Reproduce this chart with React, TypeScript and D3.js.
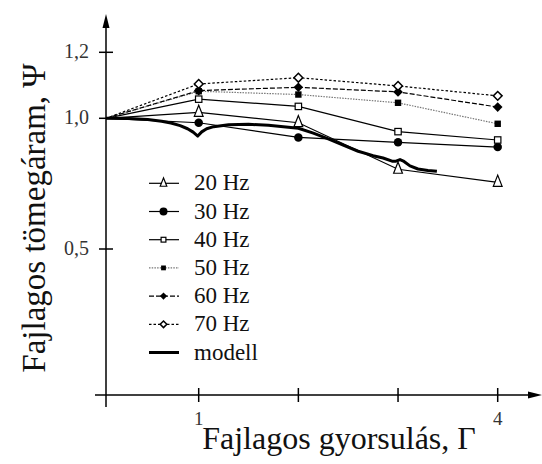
import React from "react";
import * as d3 from "d3";

// Measured points: specific mass flow Ψ against specific acceleration Γ
const gammaValues = [0, 1, 2, 3, 4];
const seriesNames = ["20 Hz", "30 Hz", "40 Hz", "50 Hz", "60 Hz", "70 Hz"];
const psi20 = [1.0, 1.018, 0.983, 0.805, 0.755];
const psi30 = [1.0, 0.983, 0.927, 0.908, 0.89];
const psi40 = [1.0, 1.058, 1.036, 0.949, 0.917];
const psi50 = [1.0, 1.082, 1.072, 1.047, 0.979];
const psi60 = [1.0, 1.084, 1.094, 1.08, 1.034];
const psi70 = [1.0, 1.104, 1.123, 1.098, 1.068];

// Model curve (Γ, Ψ)
const modelGamma = [0, 0.25, 0.45, 0.6, 0.7, 0.8, 0.88, 0.94, 0.99, 1.03, 1.08, 1.15, 1.3, 1.5, 1.7, 1.9, 2.0, 2.15, 2.3, 2.45, 2.6, 2.75, 2.85, 2.94, 2.98, 3.02, 3.06, 3.12, 3.2, 3.3, 3.39];
const modelPsi = [1.0, 0.999, 0.995, 0.989, 0.982, 0.972, 0.96, 0.947, 0.932, 0.948, 0.96, 0.968, 0.975, 0.977, 0.973, 0.966, 0.962, 0.943, 0.921, 0.897, 0.874, 0.857, 0.848, 0.836, 0.836, 0.842, 0.835, 0.818, 0.806, 0.8, 0.797];

const xTicks = [1, 2, 3, 4];
const xTickLabels = ["1", "", "", "4"];
const yTicks = [0.5, 1.0, 1.2];
const yTickLabels = ["0,5", "1,0", "1,2"];

const W = 542;
const H = 464;
const FONT = "Liberation Serif";

const x = d3.scaleLinear().domain([0, 1, 4]).range([106, 198.7, 497.7]);
const y = d3.scaleLinear().domain([0.5, 1.0, 1.2]).range([249, 118.3, 52.3]);

const axisX0 = 106;
const axisY0 = 395;

type MarkerKind = "triUp" | "circle" | "squareOpen" | "squareFilled" | "diamondFilled" | "diamondOpen";

interface Series {
  name: string;
  values: number[];
  marker: MarkerKind;
  dash?: string;
  color: string;
}

const series: Series[] = [
  { name: seriesNames[0], values: psi20, marker: "triUp", color: "#000" },
  { name: seriesNames[1], values: psi30, marker: "circle", color: "#000" },
  { name: seriesNames[2], values: psi40, marker: "squareOpen", color: "#000" },
  { name: seriesNames[3], values: psi50, marker: "squareFilled", dash: "1.5,1.2", color: "#777" },
  { name: seriesNames[4], values: psi60, marker: "diamondFilled", dash: "5,2", color: "#000" },
  { name: seriesNames[5], values: psi70, marker: "diamondOpen", dash: "2.5,2", color: "#000" },
];

function Marker({ kind, cx, cy, s }: { kind: MarkerKind; cx: number; cy: number; s: number }) {
  switch (kind) {
    case "triUp": {
      const h = s * 0.9;
      const pts = `${cx},${cy - h} ${cx - s * 0.55},${cy + h * 0.55} ${cx + s * 0.55},${cy + h * 0.55}`;
      return <polygon points={pts} fill="#fff" stroke="#000" strokeWidth={1.2} />;
    }
    case "circle":
      return <circle cx={cx} cy={cy} r={s * 0.5} fill="#000" />;
    case "squareOpen":
      return <rect x={cx - s * 0.4} y={cy - s * 0.4} width={s * 0.8} height={s * 0.8} fill="#fff" stroke="#000" strokeWidth={1.2} />;
    case "squareFilled":
      return <rect x={cx - s * 0.4} y={cy - s * 0.4} width={s * 0.8} height={s * 0.8} fill="#000" />;
    case "diamondFilled": {
      const r = s * 0.6;
      return <polygon points={`${cx},${cy - r} ${cx + r},${cy} ${cx},${cy + r} ${cx - r},${cy}`} fill="#000" />;
    }
    case "diamondOpen": {
      const r = s * 0.55;
      return <polygon points={`${cx},${cy - r} ${cx + r},${cy} ${cx},${cy + r} ${cx - r},${cy}`} fill="#fff" stroke="#000" strokeWidth={1.5} />;
    }
  }
}

export default function App() {
  const line = d3
    .line<number>()
    .x((_, i) => x(gammaValues[i]))
    .y((v) => y(v));

  const modelLine = d3
    .line<number>()
    .x((_, i) => x(modelGamma[i]))
    .y((v) => y(v));

  const legendY0 = 183.3;
  const legendStep = 28.2;
  const textStyle = { fontFamily: FONT };

  return (
    <svg
      width={W}
      height={H}
      viewBox={`0 0 ${W} ${H}`}
      style={{ position: "absolute", left: 0, top: 0, background: "#fff" }}
    >
      <rect width={W} height={H} fill="#fff" />

      {/* axes */}
      <line x1={axisX0} x2={axisX0} y1={407} y2={24} stroke="#000" strokeWidth={1.5} />
      <path d={`M${axisX0},14 L${axisX0 - 3.5},28 L${axisX0 + 3.5},28 Z`} fill="#000" />
      <line x1={95} x2={532} y1={axisY0} y2={axisY0} stroke="#000" strokeWidth={1.5} />
      <path d={`M542,${axisY0} L528,${axisY0 - 3.5} L528,${axisY0 + 3.5} Z`} fill="#000" />

      {/* x ticks */}
      {xTicks.map((t, i) => (
        <g key={`xt${t}`}>
          <line x1={x(t)} x2={x(t)} y1={axisY0 - 7} y2={axisY0 + 7} stroke="#000" strokeWidth={1.5} />
          {xTickLabels[i] && (
            <text x={x(t)} y={425} textAnchor="middle" style={textStyle} fontSize={19} fill="#333">
              {xTickLabels[i]}
            </text>
          )}
        </g>
      ))}

      {/* y ticks */}
      {yTicks.map((t, i) => (
        <g key={`yt${t}`}>
          <line x1={axisX0 - 7} x2={axisX0 + 7} y1={y(t)} y2={y(t)} stroke="#000" strokeWidth={1.5} />
          <text x={89} y={y(t) + 6} textAnchor="end" style={textStyle} fontSize={20} fill="#333">
            {yTickLabels[i]}
          </text>
        </g>
      ))}

      {/* axis titles */}
      <text x={339} y={449} textAnchor="middle" style={textStyle} fontSize={32} fill="#111">
        Fajlagos gyorsulás, Γ
      </text>
      <text
        transform="translate(45,218) rotate(-90)"
        textAnchor="middle"
        style={textStyle}
        fontSize={33}
        fill="#111"
      >
        Fajlagos tömegáram, Ψ
      </text>

      {/* measured series */}
      {series.map((s) => (
        <path
          key={`l${s.name}`}
          d={line(s.values) || ""}
          fill="none"
          stroke={s.color}
          strokeWidth={1.2}
          strokeDasharray={s.dash}
        />
      ))}

      {/* model */}
      <path d={modelLine(modelPsi) || ""} fill="none" stroke="#000" strokeWidth={3} strokeLinejoin="round" />

      {series.map((s) =>
        s.values.slice(1).map((v, i) => (
          <Marker key={`m${s.name}${i}`} kind={s.marker} cx={x(gammaValues[i + 1])} cy={y(v)} s={s.marker === "circle" ? 8.5 : 8} />
        ))
      )}

      {/* legend */}
      {series.map((s, i) => {
        const ly = legendY0 + i * legendStep;
        return (
          <g key={`lg${s.name}`}>
            <line x1={149} x2={179} y1={ly} y2={ly} stroke={s.color} strokeWidth={1.2} strokeDasharray={s.dash} />
            <Marker kind={s.marker} cx={163.5} cy={ly} s={s.marker === "circle" ? 8 : 6} />
            <text x={194} y={ly + 7} style={textStyle} fontSize={23} fill="#111">
              {s.name}
            </text>
          </g>
        );
      })}
      <line x1={149} x2={179} y1={legendY0 + 6 * legendStep} y2={legendY0 + 6 * legendStep} stroke="#000" strokeWidth={3} />
      <text x={194} y={legendY0 + 6 * legendStep + 7} style={textStyle} fontSize={23} fill="#111">
        modell
      </text>
    </svg>
  );
}
